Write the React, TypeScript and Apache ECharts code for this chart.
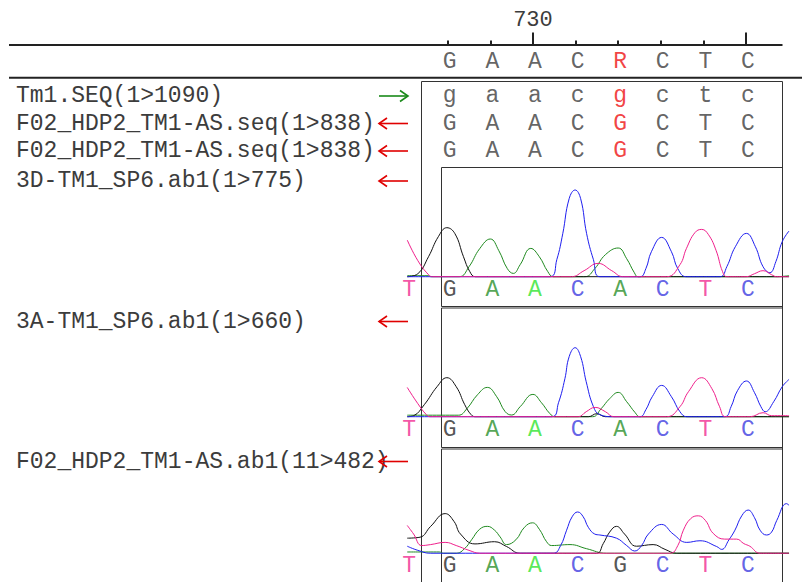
import React, { useEffect, useRef } from "react";
import * as echarts from "echarts";

// ---------- data ----------
const positions = [728, 729, 730, 731, 732, 733, 734, 735];
const rulerLabels = [730];
const consensus = ["G", "A", "A", "C", "R", "C", "T", "C"];
const tm1Seq = ["g", "a", "a", "c", "g", "c", "t", "c"];
const f02Seq = ["G", "A", "A", "C", "G", "C", "T", "C"];
const mismatchPos = [732];

const trackNames = [
  "Tm1.SEQ(1>1090)",
  "F02_HDP2_TM1-AS.seq(1>838)",
  "F02_HDP2_TM1-AS.seq(1>838)",
  "3D-TM1_SP6.ab1(1>775)",
  "3A-TM1_SP6.ab1(1>660)",
  "F02_HDP2_TM1-AS.ab1(11>482)",
];
const trackForward = [true, false, false, false, false, false];

const callPositions = [727.05, 728, 729, 730, 731, 732, 733, 734, 735];
const calls3D = ["T", "G", "A", "A", "C", "A", "C", "T", "C"];
const calls3A = ["T", "G", "A", "A", "C", "A", "C", "T", "C"];
const callsF02 = ["T", "G", "A", "A", "C", "G", "C", "T", "C"];
const weakCallPos = [730];

// chromatogram traces: [position, signal]
const t3D_A = [[727.05,1],[727.55,1],[727.6,0],[728.27,0],[728.5,10],[728.75,28],[729.0,37.7],[729.2,26],[729.4,8],[729.54,3.3],[729.7,12],[729.95,28.3],[730.15,20],[730.35,5],[730.48,0],[731.22,0],[731.45,8],[731.7,22],[732.0,28.7],[732.2,18],[732.38,4],[732.47,0],[735.7,0],[736.01,1]];
const t3D_C = [[727.05,0],[730.4,0],[730.56,17],[730.7,43],[730.85,78],[730.99,86.7],[731.12,78],[731.26,43],[731.42,17],[731.57,0],[732.51,0],[732.65,8],[732.78,25],[733.02,39.3],[733.25,25],[733.4,8],[733.6,0],[734.39,0],[734.55,10],[734.75,30],[735.01,43.3],[735.22,30],[735.4,10],[735.56,4],[735.7,15],[735.85,35],[736.01,45.7]];
const t3D_G = [[727.05,0],[727.3,3],[727.55,20],[727.78,40],[727.98,49],[728.17,43],[728.37,20],[728.52,5],[728.65,0],[736.01,0]];
const t3D_T = [[727.05,36.7],[727.3,16],[727.55,2],[727.65,0],[730.9,0],[731.2,6],[731.53,13.3],[731.85,6],[732.12,0],[733.14,0],[733.45,12],[733.6,28],[733.8,44],[733.96,47.3],[734.12,42],[734.3,26],[734.45,5],[734.55,0],[735.0,0],[735.2,3],[735.4,6],[735.6,2],[735.72,0],[736.01,0]];

const t3A_A = [[727.05,1.5],[728.25,1.5],[728.45,8],[728.7,22],[728.93,29.3],[729.15,20],[729.35,5],[729.5,1.7],[729.7,10],[730.0,22.3],[730.2,14],[730.4,3],[730.52,0],[731.4,0],[731.6,8],[731.8,18],[732.0,24.3],[732.2,15],[732.4,4],[732.51,0],[736.01,0]];
const t3A_C = [[727.05,0],[730.44,0],[730.6,14],[730.75,38],[730.85,60],[730.99,69],[731.12,60],[731.25,35],[731.42,10],[731.57,2],[731.89,0],[732.51,0],[732.65,7],[732.8,20],[733.02,31.3],[733.25,20],[733.45,5],[733.61,0],[734.5,0],[734.65,10],[734.8,26],[735.01,35.7],[735.2,24],[735.35,10],[735.45,5],[735.65,15],[735.85,30],[736.01,37.3]];
const t3A_G = [[727.05,0],[727.2,1],[727.45,12],[727.75,30],[727.98,39],[728.2,30],[728.4,12],[728.55,2],[728.65,0],[731.3,0],[731.5,3],[731.7,0],[736.01,0]];
const t3A_T = [[727.05,29.3],[727.3,13],[727.5,2],[727.59,0],[731.06,0],[731.25,5],[731.46,9.3],[731.7,5],[731.9,0],[733.14,0],[733.45,10],[733.65,25],[733.96,39],[734.2,28],[734.38,10],[734.52,0],[735.1,0],[735.4,4],[735.6,1],[736.01,1]];

const tF02_A = [[727.05,1.3],[727.8,1.3],[727.9,0],[728.21,0],[728.4,5],[728.56,14],[728.75,25],[728.93,28],[729.1,24],[729.23,17],[729.38,9],[729.6,14],[729.8,27],[729.99,31.7],[730.15,25],[730.32,12],[730.44,8],[730.87,9],[731.26,4.7],[731.73,0],[736.01,0]];
const tF02_C = [[727.05,7.3],[727.3,3],[727.59,0],[730.48,0],[730.65,8],[730.79,24],[730.92,38],[731.05,43],[731.18,38],[731.3,27],[731.45,20],[731.57,19],[731.96,15.7],[732.2,8],[732.39,2.3],[732.55,8],[732.71,20],[733.02,30],[733.29,20],[733.61,11.3],[733.92,13],[734.31,7],[734.43,4],[734.6,14],[734.74,24],[734.9,39],[735.05,45],[735.2,37],[735.33,24],[735.48,19],[735.6,22],[735.72,34],[735.95,51.7],[736.01,50]];
const tF02_G = [[727.05,15.7],[727.35,16.7],[727.6,28],[727.94,41.3],[728.15,33],[728.3,20],[728.64,9.7],[729.1,12],[729.38,7],[729.7,0],[731.49,0],[731.65,10],[731.8,22],[731.96,28],[732.15,20],[732.43,7.3],[732.82,9],[733.1,4],[733.37,0],[736.01,0]];
const tF02_T = [[727.05,29],[727.2,20],[727.39,8],[727.6,9],[727.94,11.3],[728.2,8],[728.5,3],[728.76,0],[733.22,0],[733.4,8],[733.53,24],[733.7,36],[733.88,39],[734.05,34],[734.23,20.7],[734.5,14.7],[734.78,14.7],[734.95,10],[735.09,7.3],[735.33,0],[736.01,0]];

// ---------- styling / layout ----------
const FONT = "Liberation Mono";
const TEXT = "#3c3c3c";
const RED = "#ee1111";
const baseColor: Record<string, string> = {
  A: "#2a8f2a",
  C: "#3c3ce0",
  G: "#2a2a2a",
  T: "#f02a90",
};
const traceColor: Record<string, string> = {
  A: "#1f8a1f",
  C: "#1e1ef0",
  G: "#111111",
  T: "#f0208c",
};
const LIME = "#2ee42e";

const PX0 = 405.09; // pixel of position 727
const UNIT = 42.614;
const XMIN = 727;
const XMAX = 736;

const rowY = [62, 96, 123.5, 151];
const nameY = [96, 123.5, 151, 181, 321.5, 461.5];
const panelBase = [276.7, 416.7, 557.3];

export default function App() {
  const ref = useRef<HTMLDivElement>(null);

  useEffect(() => {
    if (!ref.current) return;
    const chart = echarts.init(ref.current, undefined, { renderer: "svg" });

    const gridW = (XMAX - XMIN) * UNIT;
    const grids: any[] = [
      { left: PX0, top: 0, width: gridW, height: 582 },
      { left: PX0 + UNIT, top: 0, width: 7 * UNIT, height: 44.5 },
      { left: PX0 + 3 * UNIT, top: 0, width: 5 * UNIT, height: 44.5 },
      ...panelBase.map((b) => ({ left: PX0, top: b - 100, width: gridW, height: 130 })),
    ];

    const hiddenX = (min: number, max: number, gi: number) => ({
      type: "value", gridIndex: gi, min, max, show: false,
    });
    const xAxes: any[] = [
      hiddenX(XMIN, XMAX, 0),
      {
        type: "value", gridIndex: 1, position: "bottom", min: 728, max: 735, interval: 1,
        axisLine: { show: false }, splitLine: { show: false },
        axisTick: { show: true, inside: true, length: 4, lineStyle: { color: "#222", width: 2 } },
        axisLabel: { show: false },
      },
      {
        type: "value", gridIndex: 2, position: "bottom", min: 730, max: 735, interval: 5,
        axisLine: { show: false }, splitLine: { show: false },
        axisTick: { show: true, inside: true, length: 12, lineStyle: { color: "#222", width: 2 } },
        axisLabel: {
          show: true, inside: true, margin: 13, fontSize: 22, fontFamily: FONT, color: TEXT,
          formatter: (v: number) => (rulerLabels.includes(v) ? String(v) : ""),
        },
      },
      hiddenX(XMIN, XMAX, 3),
      hiddenX(XMIN, XMAX, 4),
      hiddenX(XMIN, XMAX, 5),
    ];
    const yAxes: any[] = [
      { type: "value", gridIndex: 0, min: 0, max: 582, inverse: true, show: false },
      { type: "value", gridIndex: 1, min: 0, max: 1, show: false },
      { type: "value", gridIndex: 2, min: 0, max: 1, show: false },
      { type: "value", gridIndex: 3, min: -30, max: 100, show: false },
      { type: "value", gridIndex: 4, min: -30, max: 100, show: false },
      { type: "value", gridIndex: 5, min: -30, max: 100, show: false },
    ];

    const letterLabel = {
      show: true, position: "inside", formatter: "{b}", fontSize: 23, fontFamily: FONT,
      textBorderWidth: 0, offset: [2, 0],
    };

    // sequence rows
    const rows = [consensus, tm1Seq, f02Seq, f02Seq];
    const rowData: any[] = [];
    rows.forEach((seq, r) => {
      seq.forEach((b, i) => {
        const red = mismatchPos.includes(positions[i]);
        rowData.push({ name: b, value: [positions[i], rowY[r]], label: { color: red ? RED : TEXT } });
      });
    });

    const series: any[] = [
      {
        type: "scatter", xAxisIndex: 0, yAxisIndex: 0, symbolSize: 1, silent: true,
        itemStyle: { color: "rgba(0,0,0,0)" }, label: letterLabel, data: rowData,
      },
    ];

    const panels = [
      { calls: calls3D, A: t3D_A, C: t3D_C, G: t3D_G, T: t3D_T },
      { calls: calls3A, A: t3A_A, C: t3A_C, G: t3A_G, T: t3A_T },
      { calls: callsF02, A: tF02_A, C: tF02_C, G: tF02_G, T: tF02_T },
    ];
    panels.forEach((p, k) => {
      const gi = 3 + k;
      (["A", "G", "C", "T"] as const).forEach((b, j) => {
        series.push({
          type: "line", xAxisIndex: gi, yAxisIndex: gi, data: (p as any)[b],
          symbol: "none", smooth: 0.45, clip: false, silent: true, z: 2 + j,
          lineStyle: { color: traceColor[b], width: 1 },
        });
      });
      series.push({
        type: "scatter", xAxisIndex: gi, yAxisIndex: gi, symbolSize: 1, silent: true, z: 10,
        itemStyle: { color: "rgba(0,0,0,0)" }, label: letterLabel,
        data: p.calls.map((b, i) => ({
          name: b,
          value: [callPositions[i], -13.5],
          label: { color: weakCallPos.includes(callPositions[i]) && b === "A" ? LIME : baseColor[b] },
        })),
      });
    });

    // graphics: rules, boxes, names, arrows
    const graphics: any[] = [
      { type: "line", shape: { x1: 9, y1: 45, x2: 782.5, y2: 45 }, style: { stroke: "#222", lineWidth: 2 } },
      { type: "line", shape: { x1: 9, y1: 77.7, x2: 802, y2: 77.7 }, style: { stroke: "#222", lineWidth: 2 } },
      { type: "polyline", shape: { points: [[421.5, 582], [421.5, 81.5], [782.5, 81.5], [782.5, 582]] }, style: { stroke: "#333", lineWidth: 1, fill: "none" } },
      { type: "rect", shape: { x: 441.5, y: 167.5, width: 341, height: 139 }, style: { stroke: "#333", lineWidth: 1, fill: "none" } },
      { type: "rect", shape: { x: 441.5, y: 308, width: 341, height: 139.5 }, style: { stroke: "#333", lineWidth: 1, fill: "none" } },
      { type: "polyline", shape: { points: [[441.5, 582], [441.5, 449], [782.5, 449], [782.5, 582]] }, style: { stroke: "#333", lineWidth: 1, fill: "none" } },
    ];
    trackNames.forEach((n, i) => {
      const y = nameY[i];
      graphics.push({
        type: "text", z: 5,
        style: { text: n, x: 16, y, fill: TEXT, fontSize: 23, fontFamily: FONT, verticalAlign: "middle", align: "left" },
      });
      const col = trackForward[i] ? "#1a8a1a" : "#e00000";
      graphics.push({ type: "line", z: 6, shape: { x1: 379, y1: y, x2: 408, y2: y }, style: { stroke: col, lineWidth: 1.6 } });
      const head = trackForward[i]
        ? [[400, y - 5.5], [408, y], [400, y + 5.5]]
        : [[387, y - 5.5], [379, y], [387, y + 5.5]];
      graphics.push({ type: "polyline", z: 6, shape: { points: head }, style: { stroke: col, lineWidth: 1.6, fill: "none" } });
    });

    chart.setOption({
      animation: false,
      backgroundColor: "#ffffff",
      grid: grids,
      xAxis: xAxes,
      yAxis: yAxes,
      series,
      graphic: graphics,
    });

    return () => chart.dispose();
  }, []);

  return (
    <div
      ref={ref}
      style={{ position: "absolute", left: 0, top: 0, width: 802, height: 582 }}
    />
  );
}
